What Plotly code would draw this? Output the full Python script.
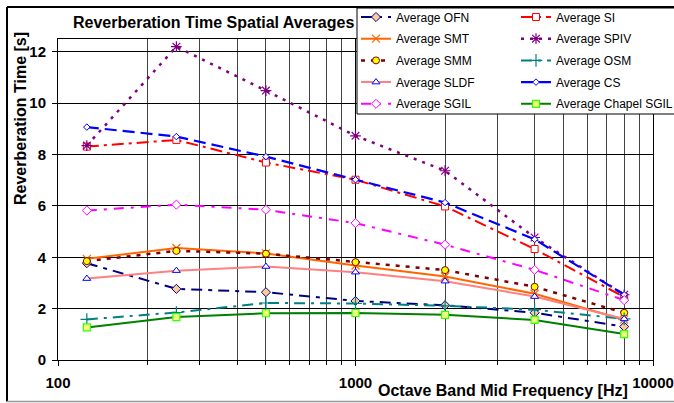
import plotly.graph_objects as go

freq = [125, 250, 500, 1000, 2000, 4000, 8000]
OFN = [3.77, 2.77, 2.64, 2.30, 2.13, 1.84, 1.30]
SI = [8.31, 8.57, 7.69, 7.02, 5.98, 4.32, 2.45]
SMT = [3.94, 4.36, 4.15, 3.68, 3.25, 2.58, 1.57]
SPIV = [8.35, 12.2, 10.49, 8.73, 7.37, 4.77, 2.54]
SMM = [3.85, 4.25, 4.14, 3.81, 3.50, 2.85, 1.84]
OSM = [1.58, 1.85, 2.22, 2.20, 2.11, 1.96, 1.60]
SLDF = [3.17, 3.48, 3.64, 3.42, 3.07, 2.47, 1.60]
CS = [9.07, 8.70, 7.92, 7.02, 6.13, 4.70, 2.54]
SGIL = [5.82, 6.05, 5.85, 5.33, 4.49, 3.51, 2.33]
CHAPEL = [1.27, 1.67, 1.82, 1.83, 1.76, 1.56, 1.01]

names = ["Average OFN", "Average SI", "Average SMT", "Average SPIV", "Average SMM",
         "Average OSM", "Average SLDF", "Average CS", "Average SGIL", "Average Chapel SGIL"]
values = [OFN, SI, SMT, SPIV, SMM, OSM, SLDF, CS, SGIL, CHAPEL]

styles = [
    dict(line=dict(color="#000080", width=2, dash="11px,6px,4px,6px"),
         marker=dict(symbol="diamond", size=7, color="#FFCC99", line=dict(color="#000080", width=1))),
    dict(line=dict(color="#FF0000", width=2, dash="12px,5px,3px,5px"),
         marker=dict(symbol="square", size=7, color="white", line=dict(color="#FF0000", width=1))),
    dict(line=dict(color="#FF6600", width=2),
         marker=dict(symbol="x-thin-open", size=8, color="#FF6600", line=dict(color="#FF6600", width=1.2))),
    dict(line=dict(color="#800080", width=2.5, dash="3px,6px"),
         marker=dict(symbol="asterisk-open", size=9, color="#800080", line=dict(color="#800080", width=1.2))),
    dict(line=dict(color="#800000", width=2.5, dash="4px,6px"),
         marker=dict(symbol="circle", size=7, color="#FFFF00", line=dict(color="#800000", width=1))),
    dict(line=dict(color="#008080", width=2, dash="11px,6px,3px,6px"),
         marker=dict(symbol="cross-thin-open", size=9, color="#008080", line=dict(color="#008080", width=1.2))),
    dict(line=dict(color="#FF8080", width=2),
         marker=dict(symbol="triangle-up", size=7, color="white", line=dict(color="#0000FF", width=1))),
    dict(line=dict(color="#0000FF", width=2.2, dash="12px,6px"),
         marker=dict(symbol="diamond", size=5, color="white", line=dict(color="#0000FF", width=1))),
    dict(line=dict(color="#FF00FF", width=2, dash="10px,7px,3px,7px"),
         marker=dict(symbol="diamond", size=7, color="white", line=dict(color="#FF00FF", width=1))),
    dict(line=dict(color="#008000", width=2),
         marker=dict(symbol="square", size=7, color="#F0FF80", line=dict(color="#33FF00", width=1.2))),
]

W, H = 674, 403
L, R, T, B = 58, 21, 39, 43
pw, ph = W - L - R, H - T - B


def px_x(x):
    return (x - L) / pw


def px_y(y):
    return (H - B - y) / ph


fig = go.Figure()
for i, (n, v, s) in enumerate(zip(names, values, styles)):
    fig.add_trace(go.Scatter(
        x=freq, y=v, name=n, mode="lines+markers",
        line=s["line"], marker=s["marker"],
        legend="legend" if i % 2 == 0 else "legend2",
        legendgroup=n,
    ))

minor_vals = [m * d for d in (100, 1000) for m in range(2, 10)]

fig.update_layout(
    width=W, height=H,
    margin=dict(l=L, r=R, t=T, b=B, autoexpand=False),
    paper_bgcolor="white", plot_bgcolor="white",
    font=dict(family="Liberation Sans, Arial, sans-serif", color="black"),
    showlegend=True,
    legend=dict(x=px_x(356), xanchor="left", y=px_y(2.5), yanchor="top",
                bgcolor="rgba(0,0,0,0)", borderwidth=0,
                font=dict(size=12), traceorder="grouped", tracegroupgap=2.7),
    legend2=dict(x=px_x(516), xanchor="left", y=px_y(2.5), yanchor="top",
                 bgcolor="rgba(0,0,0,0)", borderwidth=0,
                 font=dict(size=12), traceorder="grouped", tracegroupgap=2.7),
    xaxis=dict(type="log", range=[2, 4],
               tickvals=[100, 1000, 10000], ticktext=["100", "1000", "10000"],
               tickfont=dict(size=15, family="Liberation Sans, Arial", weight="bold"),
               ticks="outside", ticklen=5, tickcolor="black",
               showgrid=True, gridcolor="#000000", gridwidth=1,
               showline=True, linecolor="black", linewidth=1, mirror=True,
               minor=dict(tickvals=minor_vals, showgrid=True, gridcolor="#444444",
                          gridwidth=1, ticks="outside", ticklen=4, tickcolor="black"),
               zeroline=False, ticklabelstandoff=4),
    yaxis=dict(range=[0, 12.5], tickvals=[0, 2, 4, 6, 8, 10, 12],
               tickfont=dict(size=15, family="Liberation Sans, Arial", weight="bold"),
               ticks="outside", ticklen=5, tickcolor="black",
               showgrid=True, gridcolor="#000000", gridwidth=1,
               showline=True, linecolor="black", linewidth=1, mirror=True,
               zeroline=False, ticklabelstandoff=3),
    shapes=[
        # legend box
        dict(type="rect", xref="paper", yref="paper",
             x0=px_x(357), x1=px_x(676), y0=px_y(114), y1=px_y(8),
             fillcolor="white", line=dict(color="black", width=1), layer="above"),
        # outer chart frame
        dict(type="line", xref="paper", yref="paper",
             x0=px_x(7), x1=px_x(676), y0=px_y(7), y1=px_y(7),
             line=dict(color="black", width=2), layer="above"),
        dict(type="line", xref="paper", yref="paper",
             x0=px_x(7), x1=px_x(7), y0=px_y(7), y1=px_y(401.5),
             line=dict(color="black", width=2), layer="above"),
        dict(type="line", xref="paper", yref="paper",
             x0=px_x(7), x1=px_x(676), y0=px_y(401.5), y1=px_y(401.5),
             line=dict(color="#999999", width=1.5), layer="above"),
    ],
    annotations=[
        dict(text="Reverberation Time Spatial Averages", xref="paper", yref="paper",
             x=px_x(213.5), y=px_y(22), showarrow=False,
             font=dict(size=16, weight="bold"), xanchor="center", yanchor="middle"),
        dict(text="Octave Band Mid Frequency [Hz]", xref="paper", yref="paper",
             x=px_x(503), y=px_y(390), showarrow=False,
             font=dict(size=16, weight="bold"), xanchor="center", yanchor="middle"),
        dict(text="Reverberation Time [s]", xref="paper", yref="paper",
             x=px_x(20), y=px_y(119), showarrow=False, textangle=-90,
             font=dict(size=16, weight="bold"), xanchor="center", yanchor="middle"),
    ],
)

fig.write_html("out.html")
